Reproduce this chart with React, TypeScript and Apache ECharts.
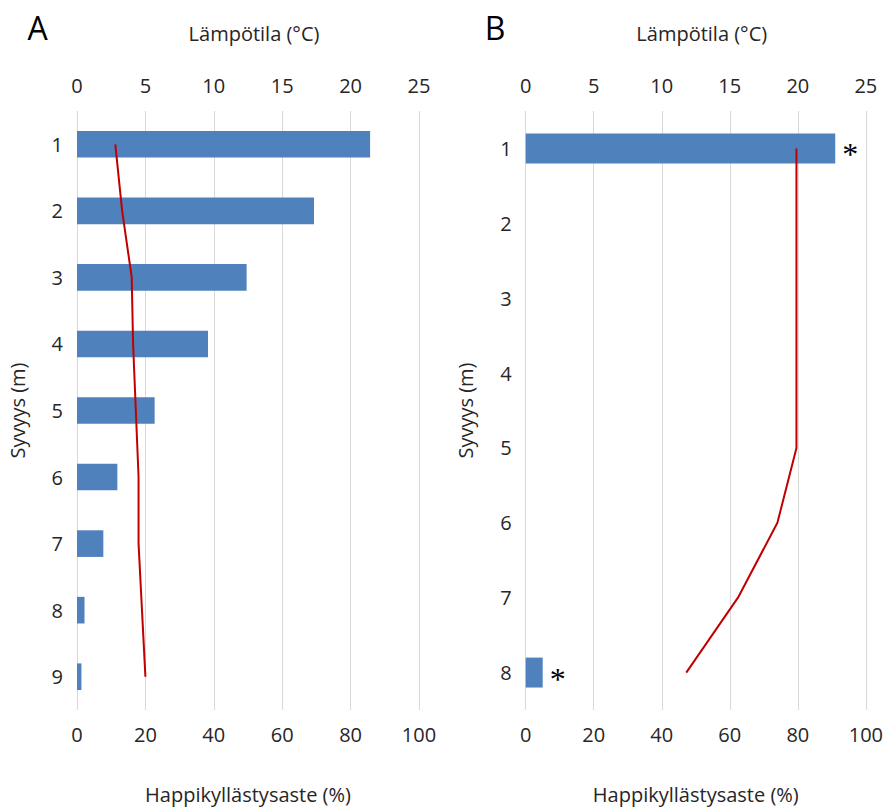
import React, { useEffect, useRef } from "react";
import * as echarts from "echarts";

const depthA = ["1", "2", "3", "4", "5", "6", "7", "8", "9"];
const oxygenA = [85.7, 69.3, 49.6, 38.3, 22.7, 11.8, 7.7, 2.2, 1.3];
const tempA = [2.8, 3.3, 4.0, 4.1, 4.3, 4.5, 4.5, 4.75, 5.0];

const depthB = ["1", "2", "3", "4", "5", "6", "7", "8"];
const oxygenB: (number | null)[] = [91.0, null, null, null, null, null, null, 5.0];
const marksB = ["*", "", "", "", "", "", "", "*"];
const tempB = [19.9, 19.9, 19.9, 19.9, 19.9, 18.5, 15.6, 11.8];

const oxygenTicks = { min: 0, max: 100, interval: 20 };
const tempTicks = { min: 0, max: 25, interval: 5 };

const FONT = "'Open Sans', sans-serif";
const TXT = "#262626";

export default function App() {
  const ref = useRef<HTMLDivElement>(null);
  useEffect(() => {
    if (!ref.current) return;
    const chart = echarts.init(ref.current, null, { renderer: "svg" });
    const grids = [
      { left: 77, width: 342, top: 111, height: 613 },
      { left: 525.7, width: 341, top: 111, height: 613 },
    ];
    const xAxes: any[] = [];
    const yAxes: any[] = [];
    [depthA, depthB].forEach((cats, i) => {
      xAxes.push({
        type: "value",
        gridIndex: i,
        position: "bottom",
        ...oxygenTicks,
        name: "Happikyllästysaste (%)",
        nameLocation: "middle",
        nameGap: 74,
        nameTextStyle: { fontFamily: FONT, fontSize: 20, color: TXT },
        axisLine: { show: false },
        axisTick: { show: false },
        axisLabel: { fontFamily: FONT, fontSize: 20, color: TXT, margin: 14 },
        splitLine: { show: true, lineStyle: { color: "#d9d9d9", width: 1 } },
      });
      xAxes.push({
        type: "value",
        gridIndex: i,
        position: "top",
        ...tempTicks,
        name: "Lämpötila (°C)",
        nameLocation: "middle",
        nameGap: 68,
        nameTextStyle: { fontFamily: FONT, fontSize: 20, color: TXT, padding: [0, 0, 0, 12] },
        axisLine: { show: false },
        axisTick: { show: false },
        axisLabel: { fontFamily: FONT, fontSize: 20, color: TXT, margin: 16 },
        splitLine: { show: false },
      });
      yAxes.push({
        type: "category",
        gridIndex: i,
        data: cats,
        inverse: true,
        name: "Syvyys (m)",
        nameLocation: "middle",
        nameGap: 50,
        nameTextStyle: { fontFamily: FONT, fontSize: 20, color: TXT },
        axisLine: { show: false },
        axisTick: { show: false },
        axisLabel: { fontFamily: FONT, fontSize: 20, color: TXT, margin: 14 },
        splitLine: { show: false },
      });
    });

    chart.setOption({
      animation: false,
      backgroundColor: "#ffffff",
      grid: grids,
      xAxis: xAxes,
      yAxis: yAxes,
      graphic: [
        {
          type: "text",
          x: 37.5,
          y: 27,
          style: { text: "A", fontFamily: FONT, fontSize: 32, fill: "#000", align: "center", verticalAlign: "middle" },
        },
        {
          type: "text",
          x: 495,
          y: 27,
          style: { text: "B", fontFamily: FONT, fontSize: 32, fill: "#000", align: "center", verticalAlign: "middle" },
        },
      ],
      series: [
        {
          type: "bar",
          xAxisIndex: 0,
          yAxisIndex: 0,
          data: oxygenA,
          barWidth: "40%",
          itemStyle: { color: "#4F81BD" },
        },
        {
          type: "line",
          xAxisIndex: 1,
          yAxisIndex: 0,
          data: tempA,
          symbol: "none",
          lineStyle: { color: "#C00000", width: 2 },
        },
        {
          type: "bar",
          xAxisIndex: 2,
          yAxisIndex: 1,
          data: oxygenB,
          barWidth: "40%",
          itemStyle: { color: "#4F81BD" },
          label: {
            show: true,
            position: "right",
            distance: 7,
            offset: [0, 6],
            formatter: (p: any) => marksB[p.dataIndex] || "",
            fontFamily: "'Liberation Serif', serif",
            fontSize: 32,
            color: "#000",
          },
        },
        {
          type: "line",
          xAxisIndex: 3,
          yAxisIndex: 1,
          data: tempB,
          symbol: "none",
          lineStyle: { color: "#C00000", width: 2 },
        },
      ],
    });
    return () => chart.dispose();
  }, []);
  return (
    <div
      ref={ref}
      style={{ position: "fixed", left: 0, top: 0, width: 886, height: 809, background: "#fff" }}
    />
  );
}
